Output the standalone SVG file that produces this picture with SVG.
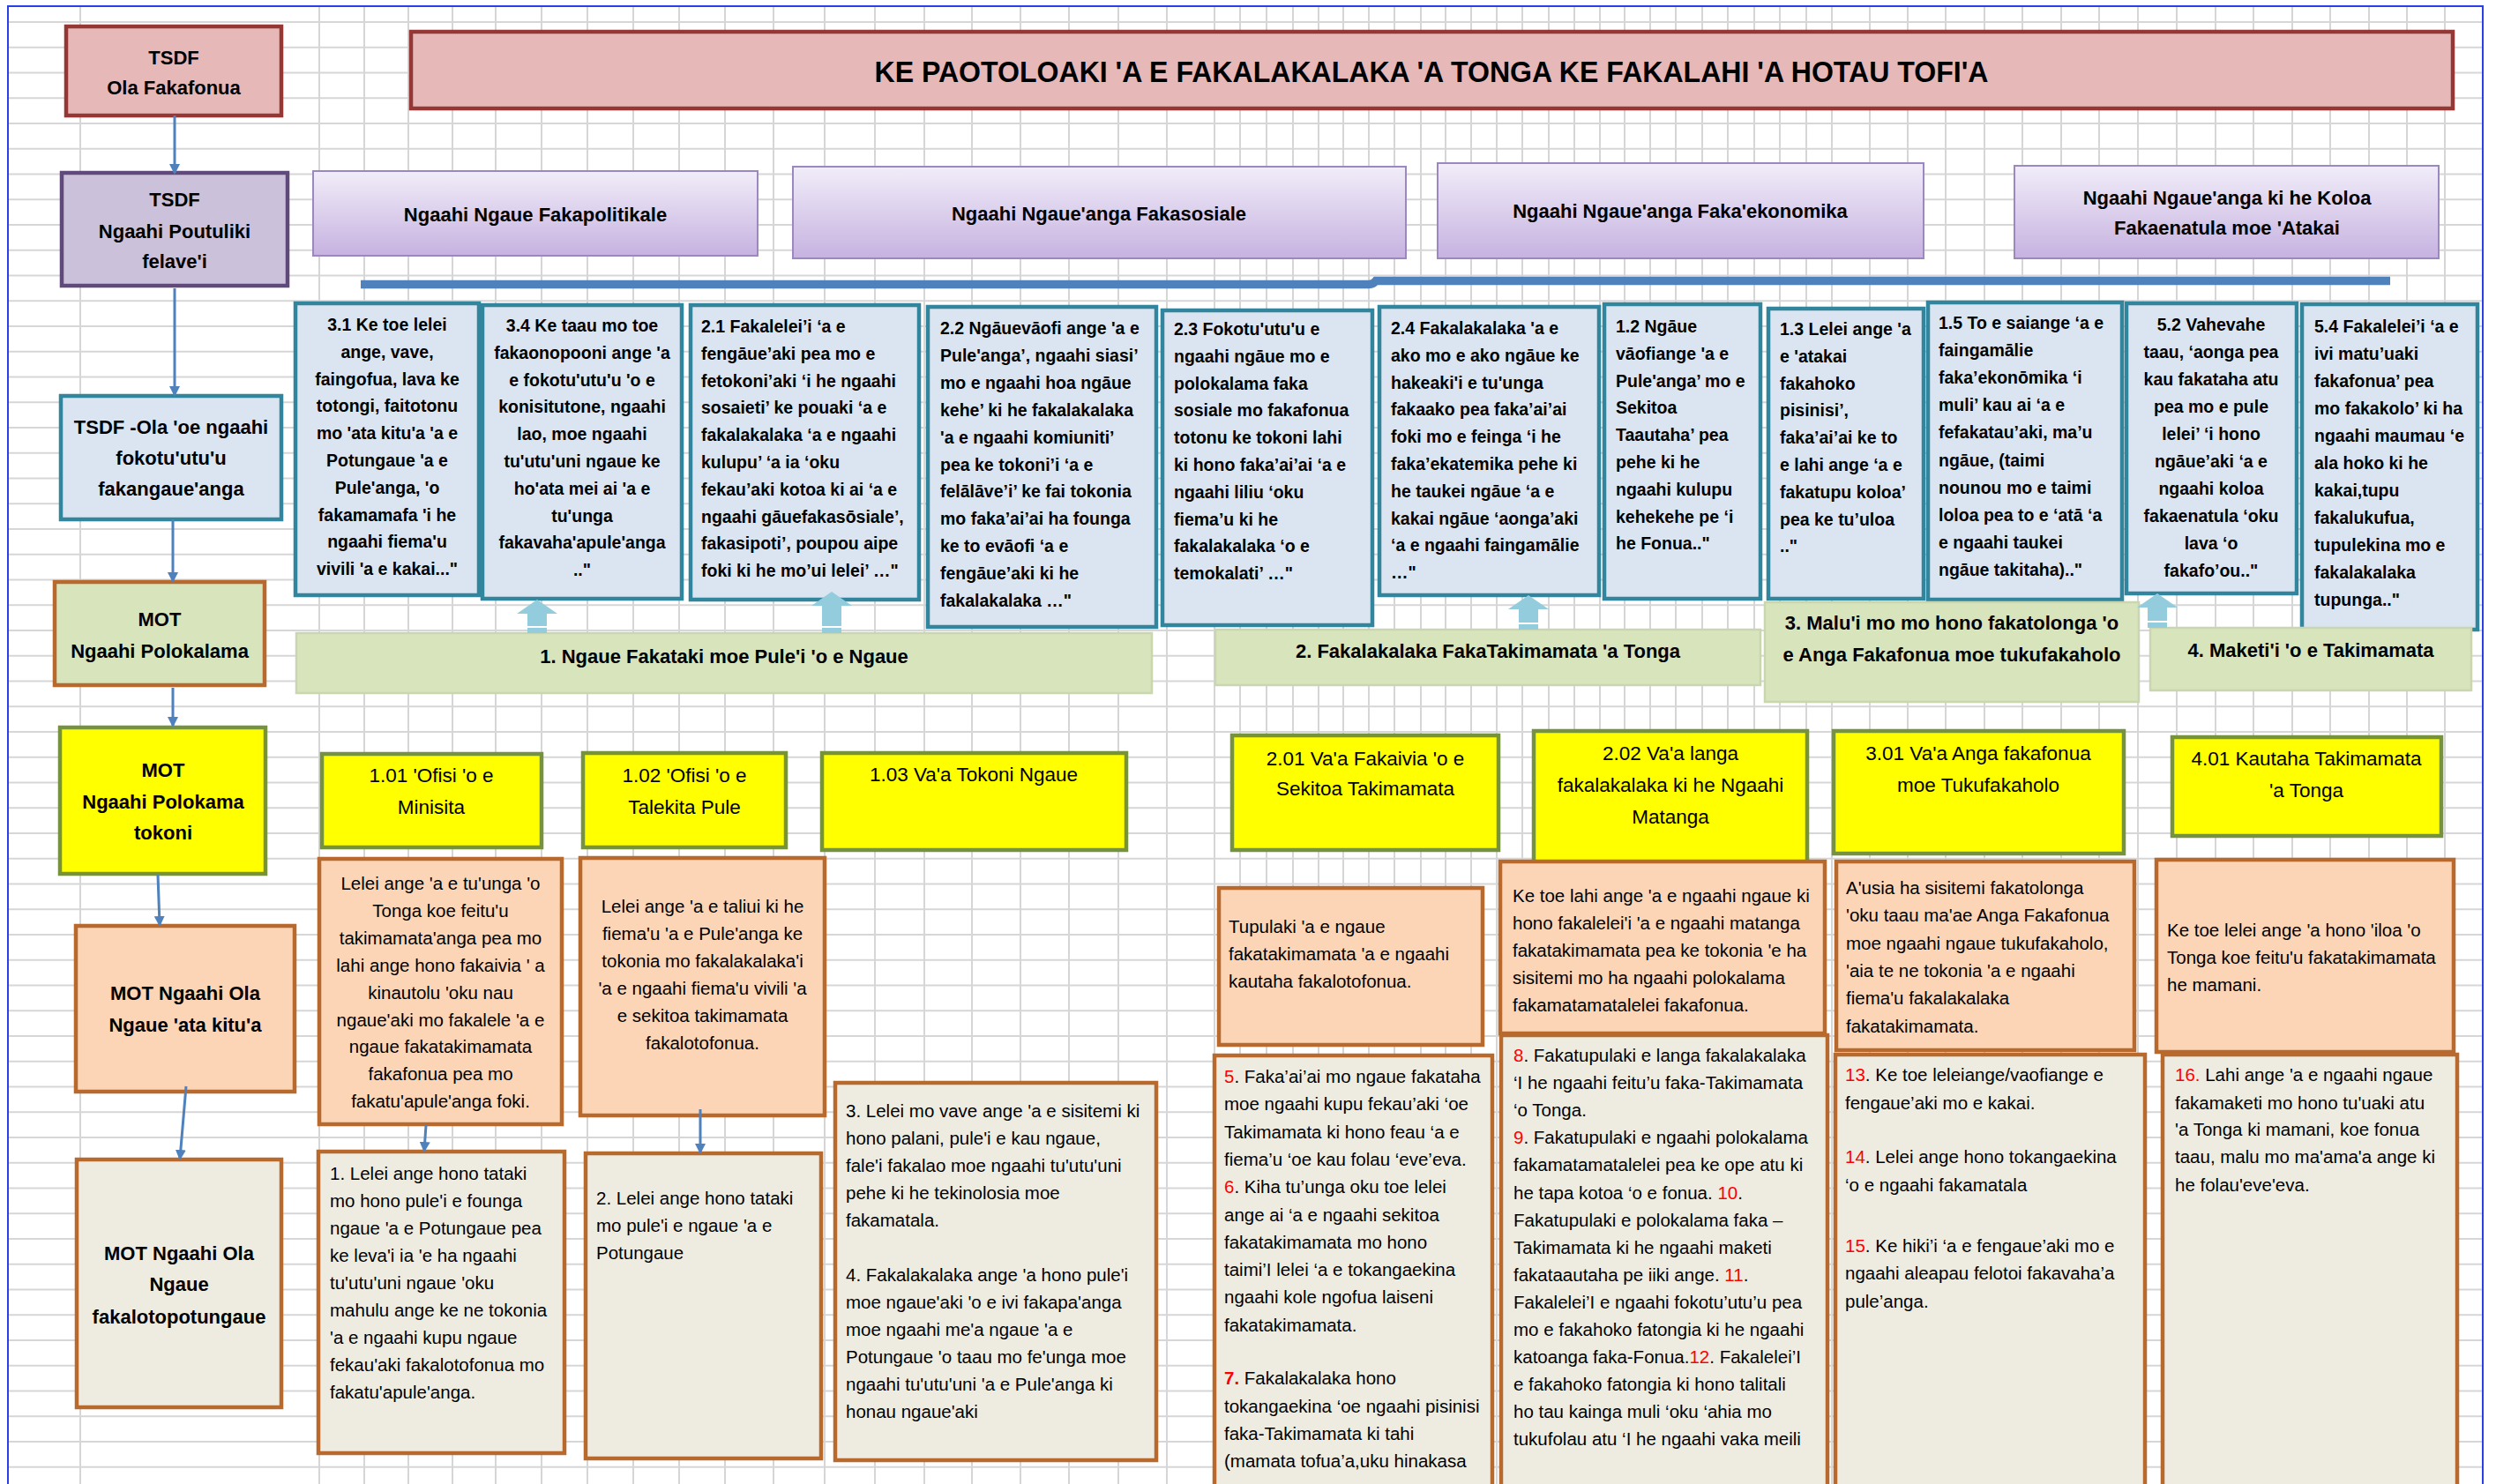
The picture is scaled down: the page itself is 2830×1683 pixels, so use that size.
<svg xmlns="http://www.w3.org/2000/svg" width="2830" height="1683" viewBox="0 0 2830 1683">
<defs>
<style>
text{font-family:'Liberation Sans',Arial,sans-serif;fill:#000}
.h{font-weight:bold;font-size:22px;text-anchor:middle}
.b{font-weight:bold;font-size:19.5px}
.m{text-anchor:middle}
.r{font-size:20.5px}
.y{font-size:22.5px;text-anchor:middle}
.red{fill:#ff0000}
.tsdf{fill:#e6b9b8;stroke:#953735;stroke-width:4.5}
.pout{fill:#ccc1da;stroke:#604a7b;stroke-width:4.5}
.lav{fill:url(#lav);stroke:#9d87c0;stroke-width:2}
.blue{fill:#dbe5f1;stroke:#31859c;stroke-width:4.5}
.band{fill:#d8e4bc;stroke:#c9d6b0;stroke-width:2.5}
.mot{fill:#d8e4bc;stroke:#b8692d;stroke-width:4.5}
.yel{fill:#ffff00;stroke:#76923c;stroke-width:4.5}
.peach{fill:#fbd5b5;stroke:#b8692d;stroke-width:4.5}
.beige{fill:#eeece1;stroke:#b8692d;stroke-width:4.5}
.conn{fill:none;stroke:#4f81bd;stroke-width:3;marker-end:url(#ah)}
.up{fill:#93cddd}
</style>
<linearGradient id="lav" x1="0" y1="0" x2="0" y2="1"><stop offset="0" stop-color="#f1edf9"/><stop offset="1" stop-color="#c6b2e0"/></linearGradient>
<marker id="ah" markerWidth="12" markerHeight="12" refX="10" refY="6" orient="auto" markerUnits="userSpaceOnUse"><path d="M0,0 L12,6 L0,12 z" fill="#4f81bd"/></marker>
<pattern id="hl" x="0" y="24" width="2830" height="28.75" patternUnits="userSpaceOnUse"><rect x="0" y="0" width="2830" height="2" fill="#d6d6d6"/></pattern>
</defs>
<rect width="2830" height="1683" fill="#ffffff"/>
<g id="grid">
<rect x="9" y="7" width="2806" height="1676" fill="url(#hl)"/>
<path fill="none" stroke="#d6d6d6" stroke-width="2" d="M91,7V1683M362,7V1683M413,7V1683M463,7V1683M513,7V1683M562,7V1683M614,7V1683M666,7V1683M718,7V1683M770,7V1683M822,7V1683M877,7V1683M935,7V1683M992,7V1683M1048,7V1683M1102,7V1683M1157,7V1683M1212,7V1683M1268,7V1683M1323,7V1683M1377,7V1683M1406,7V1683M1436,7V1683M1466,7V1683M1495,7V1683M1523,7V1683M1552,7V1683M1581,7V1683M1611,7V1683M1639,7V1683M1668,7V1683M1697,7V1683M1726,7V1683M1756,7V1683M1785,7V1683M1814,7V1683M1842,7V1683M1871,7V1683M1900,7V1683M1930,7V1683M1959,7V1683M1989,7V1683M2018,7V1683M2048,7V1683M2077,7V1683M2120,7V1683M2163,7V1683M2206,7V1683M2250,7V1683M2293,7V1683M2337,7V1683M2380,7V1683M2424,7V1683M2468,7V1683M2512,7V1683M2555,7V1683M2599,7V1683M2642,7V1683M2686,7V1683M2729,7V1683M2772,7V1683"/>
<path fill="none" stroke="#2b3fe6" stroke-width="2" d="M9,1683V7H2815V1683"/>
</g>

<g id="tsdf-ola-fakafonua"><rect class="tsdf" x="75" y="30" width="244" height="101"/>
<text class="h"><tspan x="197" y="73">TSDF</tspan><tspan x="197" y="107">Ola Fakafonua</tspan></text></g>

<g id="title"><rect class="tsdf" x="466" y="36" width="2315" height="87"/>
<text x="1623" y="93" font-size="34" font-weight="bold" text-anchor="middle" textLength="1263" lengthAdjust="spacingAndGlyphs">KE PAOTOLOAKI 'A E FAKALAKALAKA 'A TONGA KE FAKALAHI 'A HOTAU TOFI'A</text></g>

<g id="tsdf-poutuliki"><rect class="pout" x="70" y="196" width="256" height="128"/>
<text class="h"><tspan x="198" y="234">TSDF</tspan><tspan x="198" y="270">Ngaahi  Poutuliki</tspan><tspan x="198" y="304">felave'i</tspan></text></g>

<g id="politikale"><rect class="lav" x="355" y="194" width="504" height="96"/>
<text class="h" x="607" y="251">Ngaahi Ngaue Fakapolitikale</text></g>
<g id="fakasosiale"><rect class="lav" x="899" y="189" width="695" height="104"/>
<text class="h" x="1246" y="250">Ngaahi Ngaue'anga Fakasosiale</text></g>
<g id="fakaekonomika"><rect class="lav" x="1630" y="185" width="551" height="108"/>
<text class="h" x="1905" y="247">Ngaahi Ngaue'anga Faka'ekonomika</text></g>
<g id="koloa"><rect class="lav" x="2284" y="188" width="481" height="105"/>
<text class="h"><tspan x="2525" y="232">Ngaahi Ngaue'anga ki he Koloa</tspan><tspan x="2525" y="266">Fakaenatula moe 'Atakai</tspan></text></g>

<g id="tsdf-ola-fokotuutuu"><rect class="blue" x="69" y="449" width="250" height="140"/>
<text class="h"><tspan x="194" y="492">TSDF -Ola 'oe ngaahi</tspan><tspan x="194" y="527">fokotu'utu'u</tspan><tspan x="194" y="562">fakangaue'anga</tspan></text></g>

<g id="box-3-1"><rect class="blue" x="335" y="344" width="208" height="331"/>
<text class="b m"><tspan x="439" y="375">3.1 Ke toe lelei</tspan><tspan x="439" y="405.8">ange, vave,</tspan><tspan x="439" y="436.6">faingofua, lava ke</tspan><tspan x="439" y="467.4">totongi, faitotonu</tspan><tspan x="439" y="498.2">mo 'ata kitu'a 'a e</tspan><tspan x="439" y="529">Potungaue 'a e</tspan><tspan x="439" y="559.8">Pule'anga, 'o</tspan><tspan x="439" y="590.6">fakamamafa 'i he</tspan><tspan x="439" y="621.4">ngaahi fiema'u</tspan><tspan x="439" y="652.2">vivili 'a e kakai..."</tspan></text></g>

<g id="box-3-4"><rect class="blue" x="547" y="346" width="226" height="333"/>
<text class="b m"><tspan x="660" y="376">3.4 Ke taau mo toe</tspan><tspan x="660" y="406.8">fakaonopooni ange 'a</tspan><tspan x="660" y="437.6">e fokotu'utu'u 'o e</tspan><tspan x="660" y="468.4">konisitutone, ngaahi</tspan><tspan x="660" y="499.2">lao, moe ngaahi</tspan><tspan x="660" y="530">tu'utu'uni ngaue ke</tspan><tspan x="660" y="560.8">ho'ata mei ai 'a e</tspan><tspan x="660" y="591.6">tu'unga</tspan><tspan x="660" y="622.4">fakavaha'apule'anga</tspan><tspan x="660" y="653.2">.."</tspan></text></g>

<g id="box-2-1"><rect class="blue" x="783" y="346" width="259" height="334"/>
<text class="b"><tspan x="795" y="377">2.1 Fakalelei’i ‘a e</tspan><tspan x="795" y="407.8">fengāue’aki pea mo e</tspan><tspan x="795" y="438.6">fetokoni’aki ‘i he ngaahi</tspan><tspan x="795" y="469.4">sosaieti’ ke pouaki ‘a e</tspan><tspan x="795" y="500.2">fakalakalaka ‘a e ngaahi</tspan><tspan x="795" y="531">kulupu’ ‘a ia ‘oku</tspan><tspan x="795" y="561.8">fekau’aki kotoa ki ai ‘a e</tspan><tspan x="795" y="592.6">ngaahi gāuefakasōsiale’,</tspan><tspan x="795" y="623.4">fakasipoti’, poupou aipe</tspan><tspan x="795" y="654.2">foki ki he mo’ui lelei’ …"</tspan></text></g>

<g id="box-2-2"><rect class="blue" x="1052" y="348" width="259" height="363"/>
<text class="b"><tspan x="1066" y="379">2.2 Ngāuevāofi ange 'a e</tspan><tspan x="1066" y="409.9">Pule'anga’, ngaahi siasi’</tspan><tspan x="1066" y="440.8">mo e ngaahi hoa ngāue</tspan><tspan x="1066" y="471.7">kehe’ ki he fakalakalaka</tspan><tspan x="1066" y="502.6">'a e ngaahi komiuniti’</tspan><tspan x="1066" y="533.5">pea ke tokoni’i ‘a e</tspan><tspan x="1066" y="564.4">felālāve’i’ ke fai tokonia</tspan><tspan x="1066" y="595.3">mo faka’ai’ai ha founga</tspan><tspan x="1066" y="626.2">ke to evāofi ‘a e</tspan><tspan x="1066" y="657.1">fengāue’aki ki he</tspan><tspan x="1066" y="688">fakalakalaka …"</tspan></text></g>

<g id="box-2-3"><rect class="blue" x="1318" y="352" width="238" height="357"/>
<text class="b"><tspan x="1331" y="380">2.3 Fokotu'utu'u e</tspan><tspan x="1331" y="410.8">ngaahi ngāue mo e</tspan><tspan x="1331" y="441.6">polokalama faka</tspan><tspan x="1331" y="472.4">sosiale mo fakafonua</tspan><tspan x="1331" y="503.2">totonu ke tokoni lahi</tspan><tspan x="1331" y="534">ki hono faka’ai’ai ‘a e</tspan><tspan x="1331" y="564.8">ngaahi liliu ‘oku</tspan><tspan x="1331" y="595.6">fiema’u ki he</tspan><tspan x="1331" y="626.4">fakalakalaka ‘o e</tspan><tspan x="1331" y="657.2">temokalati’ …"</tspan></text></g>

<g id="box-2-4"><rect class="blue" x="1564" y="348" width="249" height="327"/>
<text class="b"><tspan x="1577" y="379">2.4 Fakalakalaka 'a e</tspan><tspan x="1577" y="409.8">ako mo e ako ngāue ke</tspan><tspan x="1577" y="440.6">hakeaki'i e tu'unga</tspan><tspan x="1577" y="471.4">fakaako pea faka’ai’ai</tspan><tspan x="1577" y="502.2">foki mo e feinga ‘i he</tspan><tspan x="1577" y="533">faka’ekatemika pehe ki</tspan><tspan x="1577" y="563.8">he taukei ngāue ‘a e</tspan><tspan x="1577" y="594.6">kakai ngāue ‘aonga’aki</tspan><tspan x="1577" y="625.4">‘a e ngaahi faingamālie</tspan><tspan x="1577" y="656.2">…"</tspan></text></g>

<g id="box-1-2"><rect class="blue" x="1819" y="345" width="177" height="334"/>
<text class="b"><tspan x="1832" y="377">1.2 Ngāue</tspan><tspan x="1832" y="407.8">vāofiange 'a e</tspan><tspan x="1832" y="438.6">Pule'anga’ mo e</tspan><tspan x="1832" y="469.4">Sekitoa</tspan><tspan x="1832" y="500.2">Taautaha’ pea</tspan><tspan x="1832" y="531">pehe ki he</tspan><tspan x="1832" y="561.8">ngaahi kulupu</tspan><tspan x="1832" y="592.6">kehekehe pe ‘i</tspan><tspan x="1832" y="623.4">he Fonua.."</tspan></text></g>

<g id="box-1-3"><rect class="blue" x="2005" y="350" width="176" height="329"/>
<text class="b"><tspan x="2018" y="380">1.3 Lelei ange 'a</tspan><tspan x="2018" y="410.8">e 'atakai</tspan><tspan x="2018" y="441.6">fakahoko</tspan><tspan x="2018" y="472.4">pisinisi’,</tspan><tspan x="2018" y="503.2">faka’ai’ai ke to</tspan><tspan x="2018" y="534">e lahi ange ‘a e</tspan><tspan x="2018" y="564.8">fakatupu koloa’</tspan><tspan x="2018" y="595.6">pea ke tu’uloa</tspan><tspan x="2018" y="626.4">.."</tspan></text></g>

<g id="box-1-5"><rect class="blue" x="2186" y="343" width="220" height="337"/>
<text class="b"><tspan x="2198" y="373">1.5 To e saiange ‘a e</tspan><tspan x="2198" y="404.1">faingamālie</tspan><tspan x="2198" y="435.2">faka’ekonōmika ‘i</tspan><tspan x="2198" y="466.3">muli’ kau ai ‘a e</tspan><tspan x="2198" y="497.4">fefakatau’aki, ma’u</tspan><tspan x="2198" y="528.5">ngāue, (taimi</tspan><tspan x="2198" y="559.6">nounou mo e taimi</tspan><tspan x="2198" y="590.7">loloa pea to e ‘atā ‘a</tspan><tspan x="2198" y="621.8">e ngaahi taukei</tspan><tspan x="2198" y="652.9">ngāue takitaha).."</tspan></text></g>

<g id="box-5-2"><rect class="blue" x="2411" y="344" width="193" height="329"/>
<text class="b m"><tspan x="2507" y="375">5.2 Vahevahe</tspan><tspan x="2507" y="406">taau, ‘aonga pea</tspan><tspan x="2507" y="437">kau fakataha atu</tspan><tspan x="2507" y="468">pea mo e pule</tspan><tspan x="2507" y="499">lelei’ ‘i hono</tspan><tspan x="2507" y="530">ngāue’aki ‘a e</tspan><tspan x="2507" y="561">ngaahi koloa</tspan><tspan x="2507" y="592">fakaenatula ‘oku</tspan><tspan x="2507" y="623">lava ‘o</tspan><tspan x="2507" y="654">fakafo’ou.."</tspan></text></g>

<g id="box-5-4"><rect class="blue" x="2610" y="345" width="199" height="369"/>
<text class="b"><tspan x="2624" y="377">5.4 Fakalelei’i ‘a e</tspan><tspan x="2624" y="408">ivi matu’uaki</tspan><tspan x="2624" y="439">fakafonua’ pea</tspan><tspan x="2624" y="470">mo fakakolo’ ki ha</tspan><tspan x="2624" y="501">ngaahi maumau ‘e</tspan><tspan x="2624" y="532">ala hoko ki he</tspan><tspan x="2624" y="563">kakai,tupu</tspan><tspan x="2624" y="594">fakalukufua,</tspan><tspan x="2624" y="625">tupulekina mo e</tspan><tspan x="2624" y="656">fakalakalaka</tspan><tspan x="2624" y="687">tupunga.."</tspan></text></g>

<g id="band-1"><rect class="band" x="336" y="718" width="970" height="68"/>
<text class="h" x="821" y="752">1. Ngaue Fakataki  moe Pule'i 'o e Ngaue</text></g>
<g id="band-2"><rect class="band" x="1378" y="714" width="618" height="63"/>
<text class="h" x="1687" y="746">2. Fakalakalaka  FakaTakimamata  'a Tonga</text></g>
<g id="band-3"><rect class="band" x="2001" y="683" width="424" height="113"/>
<text class="h"><tspan x="2213" y="714">3. Malu'i  mo mo hono fakatolonga  'o</tspan><tspan x="2213" y="750">e Anga Fakafonua  moe tukufakaholo</tspan></text></g>
<g id="band-4"><rect class="band" x="2438" y="712" width="364" height="71"/>
<text class="h" x="2620" y="745">4. Maketi'i  'o e Takimamata</text></g>

<g id="mot-polokalama"><rect class="mot" x="62" y="660" width="238" height="117"/>
<text class="h"><tspan x="181" y="710">MOT</tspan><tspan x="181" y="746">Ngaahi Polokalama</tspan></text></g>

<g id="mot-polokama-tokoni"><rect class="yel" x="68" y="825" width="233" height="166"/>
<text class="h"><tspan x="185" y="881">MOT</tspan><tspan x="185" y="917">Ngaahi Polokama</tspan><tspan x="185" y="952">tokoni</tspan></text></g>

<g id="y-1-01"><rect class="yel" x="365" y="855" width="249" height="106"/>
<text class="y"><tspan x="489" y="887">1.01 'Ofisi 'o e</tspan><tspan x="489" y="923">Minisita</tspan></text></g>
<g id="y-1-02"><rect class="yel" x="661" y="854" width="230" height="107"/>
<text class="y"><tspan x="776" y="887">1.02 'Ofisi 'o e</tspan><tspan x="776" y="923">Talekita Pule</tspan></text></g>
<g id="y-1-03"><rect class="yel" x="932" y="854" width="345" height="110"/>
<text class="y" x="1104" y="886">1.03 Va'a Tokoni Ngaue</text></g>
<g id="y-2-01"><rect class="yel" x="1397" y="834" width="302" height="130"/>
<text class="y"><tspan x="1548" y="868">2.01 Va'a Fakaivia 'o e</tspan><tspan x="1548" y="902">Sekitoa Takimamata</tspan></text></g>
<g id="y-2-02"><rect class="yel" x="1739" y="829" width="310" height="150"/>
<text class="y"><tspan x="1894" y="862">2.02 Va'a langa</tspan><tspan x="1894" y="898">fakalakalaka ki he Ngaahi</tspan><tspan x="1894" y="934">Matanga</tspan></text></g>
<g id="y-3-01"><rect class="yel" x="2079" y="829" width="329" height="139"/>
<text class="y"><tspan x="2243" y="862">3.01  Va'a Anga fakafonua</tspan><tspan x="2243" y="898">moe Tukufakaholo</tspan></text></g>
<g id="y-4-01"><rect class="yel" x="2463" y="836" width="305" height="112"/>
<text class="y"><tspan x="2615" y="868">4.01 Kautaha Takimamata</tspan><tspan x="2615" y="904">'a Tonga</tspan></text></g>

<g id="mot-ola-atakitua"><rect class="peach" x="86" y="1050" width="248" height="188"/>
<text class="h"><tspan x="210" y="1134">MOT Ngaahi Ola</tspan><tspan x="210" y="1170">Ngaue 'ata kitu'a</tspan></text></g>

<g id="p-1"><rect class="peach" x="362" y="974" width="275" height="301"/>
<text class="r m"><tspan x="499.5" y="1009">Lelei ange 'a e tu'unga 'o</tspan><tspan x="499.5" y="1039.9">Tonga koe feitu'u</tspan><tspan x="499.5" y="1070.8">takimamata'anga pea mo</tspan><tspan x="499.5" y="1101.7">lahi ange hono fakaivia ' a</tspan><tspan x="499.5" y="1132.6">kinautolu 'oku nau</tspan><tspan x="499.5" y="1163.5">ngaue'aki mo fakalele 'a e</tspan><tspan x="499.5" y="1194.4">ngaue fakatakimamata</tspan><tspan x="499.5" y="1225.3">fakafonua pea mo</tspan><tspan x="499.5" y="1256.2">fakatu'apule'anga foki.</tspan></text></g>

<g id="p-2"><rect class="peach" x="658" y="973" width="277" height="292"/>
<text class="r m"><tspan x="796.5" y="1035">Lelei ange 'a e taliui ki he</tspan><tspan x="796.5" y="1066">fiema'u 'a e Pule'anga ke</tspan><tspan x="796.5" y="1097">tokonia mo fakalakalaka'i</tspan><tspan x="796.5" y="1128">'a e ngaahi fiema'u vivili 'a</tspan><tspan x="796.5" y="1159">e sekitoa takimamata</tspan><tspan x="796.5" y="1190">fakalotofonua.</tspan></text></g>

<g id="p-2-01"><rect class="peach" x="1382" y="1007" width="299" height="178"/>
<text class="r"><tspan x="1393" y="1058">Tupulaki 'a e ngaue</tspan><tspan x="1393" y="1089">fakatakimamata 'a e ngaahi</tspan><tspan x="1393" y="1120">kautaha fakalotofonua.</tspan></text></g>

<g id="p-2-02"><rect class="peach" x="1701" y="977" width="368" height="195"/>
<text class="r"><tspan x="1715" y="1023">Ke toe lahi ange 'a e ngaahi ngaue ki</tspan><tspan x="1715" y="1054">hono fakalelei'i 'a e ngaahi matanga</tspan><tspan x="1715" y="1085">fakatakimamata pea ke tokonia 'e ha</tspan><tspan x="1715" y="1116">sisitemi mo ha ngaahi polokalama</tspan><tspan x="1715" y="1147">fakamatamatalelei fakafonua.</tspan></text></g>

<g id="p-3-01"><rect class="peach" x="2082" y="977" width="338" height="214"/>
<text class="r"><tspan x="2093" y="1014">A'usia ha sisitemi fakatolonga</tspan><tspan x="2093" y="1045.3">'oku taau ma'ae Anga Fakafonua</tspan><tspan x="2093" y="1076.6">moe ngaahi ngaue tukufakaholo,</tspan><tspan x="2093" y="1107.9">'aia te ne tokonia 'a e ngaahi</tspan><tspan x="2093" y="1139.2">fiema'u fakalakalaka</tspan><tspan x="2093" y="1170.5">fakatakimamata.</tspan></text></g>

<g id="p-4-01"><rect class="peach" x="2445" y="975" width="337" height="218"/>
<text class="r"><tspan x="2457" y="1062">Ke toe lelei ange 'a hono 'iloa 'o</tspan><tspan x="2457" y="1093">Tonga koe feitu'u fakatakimamata</tspan><tspan x="2457" y="1124">he mamani.</tspan></text></g>

<g id="mot-ola-fakalotopotungaue"><rect class="beige" x="87" y="1315" width="232" height="281"/>
<text class="h"><tspan x="203" y="1429">MOT Ngaahi Ola</tspan><tspan x="203" y="1464">Ngaue</tspan><tspan x="203" y="1501">fakalotopotungaue</tspan></text></g>

<g id="b-1"><rect class="beige" x="361" y="1306" width="279" height="342"/>
<text class="r"><tspan x="374" y="1338">1. Lelei  ange hono tataki</tspan><tspan x="374" y="1369">mo hono pule'i e founga</tspan><tspan x="374" y="1400">ngaue 'a e Potungaue pea</tspan><tspan x="374" y="1431">ke leva'i ia 'e ha ngaahi</tspan><tspan x="374" y="1462">tu'utu'uni ngaue 'oku</tspan><tspan x="374" y="1493">mahulu ange ke ne tokonia</tspan><tspan x="374" y="1524">'a e ngaahi kupu ngaue</tspan><tspan x="374" y="1555">fekau'aki fakalotofonua mo</tspan><tspan x="374" y="1586">fakatu'apule'anga.</tspan></text></g>

<g id="b-2"><rect class="beige" x="664" y="1308" width="267" height="346"/>
<text class="r"><tspan x="676" y="1366">2. Lelei  ange hono tataki</tspan><tspan x="676" y="1397">mo pule'i e ngaue 'a e</tspan><tspan x="676" y="1428">Potungaue</tspan></text></g>

<g id="b-3"><rect class="beige" x="947" y="1228" width="364" height="428"/>
<text class="r"><tspan x="959" y="1267">3. Lelei  mo vave ange 'a e sisitemi ki</tspan><tspan x="959" y="1298">hono palani, pule'i e kau ngaue,</tspan><tspan x="959" y="1329">fale'i fakalao moe ngaahi tu'utu'uni</tspan><tspan x="959" y="1360">pehe ki he tekinolosia moe</tspan><tspan x="959" y="1391">fakamatala.</tspan><tspan x="959" y="1453">4. Fakalakalaka ange 'a hono pule'i</tspan><tspan x="959" y="1484">moe ngaue'aki 'o e ivi fakapa'anga</tspan><tspan x="959" y="1515">moe ngaahi me'a ngaue 'a e</tspan><tspan x="959" y="1546">Potungaue 'o taau mo fe'unga moe</tspan><tspan x="959" y="1577">ngaahi tu'utu'uni 'a e Pule'anga ki</tspan><tspan x="959" y="1608">honau ngaue'aki</tspan></text></g>

<g id="b-5-7"><rect class="beige" x="1377" y="1197" width="315" height="500"/>
<text class="r"><tspan x="1388" y="1228"><tspan class="red">5</tspan>. Faka’ai’ai mo ngaue fakataha</tspan><tspan x="1388" y="1259.3">moe ngaahi kupu fekau’aki ‘oe</tspan><tspan x="1388" y="1290.6">Takimamata ki hono feau ‘a e</tspan><tspan x="1388" y="1321.9">fiema’u ‘oe kau folau ‘eve’eva.</tspan><tspan x="1388" y="1353.2"><tspan class="red">6</tspan>. Kiha tu’unga oku toe lelei</tspan><tspan x="1388" y="1384.5">ange ai ‘a e ngaahi sekitoa</tspan><tspan x="1388" y="1415.8">fakatakimamata mo hono</tspan><tspan x="1388" y="1447.1">taimi’I lelei  ‘a e  tokangaekina</tspan><tspan x="1388" y="1478.4">ngaahi kole ngofua laiseni</tspan><tspan x="1388" y="1509.7">fakatakimamata.</tspan><tspan x="1388" y="1570.3"><tspan class="red" font-weight="bold">7.</tspan> Fakalakalaka hono</tspan><tspan x="1388" y="1601.6">tokangaekina ‘oe ngaahi pisinisi</tspan><tspan x="1388" y="1632.9">faka-Takimamata ki tahi</tspan><tspan x="1388" y="1664.2">(mamata tofua’a,uku hinakasa</tspan></text></g>

<g id="b-8-12"><rect class="beige" x="1702" y="1174" width="370" height="523"/>
<text class="r"><tspan x="1716" y="1204"><tspan class="red">8</tspan>. Fakatupulaki e langa fakalakalaka</tspan><tspan x="1716" y="1235.1">‘I he ngaahi feitu’u faka-Takimamata</tspan><tspan x="1716" y="1266.2">‘o Tonga.</tspan><tspan x="1716" y="1297.3"><tspan class="red">9</tspan>. Fakatupulaki e ngaahi polokalama</tspan><tspan x="1716" y="1328.4">fakamatamatalelei  pea ke ope atu ki</tspan><tspan x="1716" y="1359.5">he tapa kotoa ‘o e fonua. <tspan class="red">10</tspan>.</tspan><tspan x="1716" y="1390.6">Fakatupulaki e polokalama faka –</tspan><tspan x="1716" y="1421.7">Takimamata ki he ngaahi maketi</tspan><tspan x="1716" y="1452.8">fakataautaha pe iiki ange. <tspan class="red">11</tspan>.</tspan><tspan x="1716" y="1483.9">Fakalelei’I e ngaahi fokotu’utu’u pea</tspan><tspan x="1716" y="1515">mo e fakahoko fatongia ki he ngaahi</tspan><tspan x="1716" y="1546.1">katoanga faka-Fonua.<tspan class="red">12</tspan>. Fakalelei’I</tspan><tspan x="1716" y="1577.2">e fakahoko fatongia ki hono talitali</tspan><tspan x="1716" y="1608.3">ho tau kainga muli ‘oku ‘ahia mo</tspan><tspan x="1716" y="1639.4">tukufolau atu ‘I he ngaahi vaka meili</tspan></text></g>

<g id="b-13-15"><rect class="beige" x="2081" y="1196" width="351" height="500"/>
<text class="r"><tspan x="2092" y="1226"><tspan class="red">13</tspan>. Ke toe leleiange/vaofiange e</tspan><tspan x="2092" y="1258">fengaue’aki mo e kakai.</tspan><tspan x="2092" y="1319"><tspan class="red">14</tspan>. Lelei ange hono tokangaekina</tspan><tspan x="2092" y="1351">‘o e ngaahi fakamatala</tspan><tspan x="2092" y="1420"><tspan class="red">15</tspan>.  Ke hiki’i ‘a e fengaue’aki mo e</tspan><tspan x="2092" y="1451">ngaahi aleapau felotoi fakavaha’a</tspan><tspan x="2092" y="1483">pule’anga.</tspan></text></g>

<g id="b-16"><rect class="beige" x="2452" y="1196" width="334" height="500"/>
<text class="r"><tspan x="2466" y="1226"><tspan class="red">16.</tspan> Lahi ange 'a e ngaahi ngaue</tspan><tspan x="2466" y="1258">fakamaketi mo hono tu'uaki atu</tspan><tspan x="2466" y="1288">'a Tonga ki mamani, koe fonua</tspan><tspan x="2466" y="1319">taau, malu mo ma'ama'a ange ki</tspan><tspan x="2466" y="1351">he folau'eve'eva.</tspan></text></g>

<g id="connectors">
<path d="M409,322.5 H1552 Q1557,322.5 1560,318.5 H2710" fill="none" stroke="#4f81bd" stroke-width="9.5"/>
<path class="conn" d="M198,131 V196"/>
<path class="conn" d="M198,327 V448"/>
<path class="conn" d="M196,589 V659"/>
<path class="conn" d="M196,780 V823"/>
<path class="conn" d="M179,992 L181,1049"/>
<path class="conn" d="M211,1232 L204,1314"/>
<path class="conn" d="M483,1276 L481,1305"/>
<path class="conn" d="M794,1258 V1307"/>
<polygon class="up" points="609,680 632,696 620,696 620,718 598,718 598,696 586,696"/>
<line x1="598" y1="711" x2="620" y2="711" stroke="#fff" stroke-width="2"/>
<polygon class="up" points="943,671 966,687 954,687 954,718 932,718 932,687 920,687"/>
<line x1="932" y1="711" x2="954" y2="711" stroke="#fff" stroke-width="2"/>
<polygon class="up" points="1733,675 1756,691 1744,691 1744,714 1722,714 1722,691 1710,691"/>
<line x1="1722" y1="707" x2="1744" y2="707" stroke="#fff" stroke-width="2"/>
<polygon class="up" points="2446,673 2469,689 2457,689 2457,712 2435,712 2435,689 2423,689"/>
<line x1="2435" y1="705" x2="2457" y2="705" stroke="#fff" stroke-width="2"/>
</g>
</svg>
